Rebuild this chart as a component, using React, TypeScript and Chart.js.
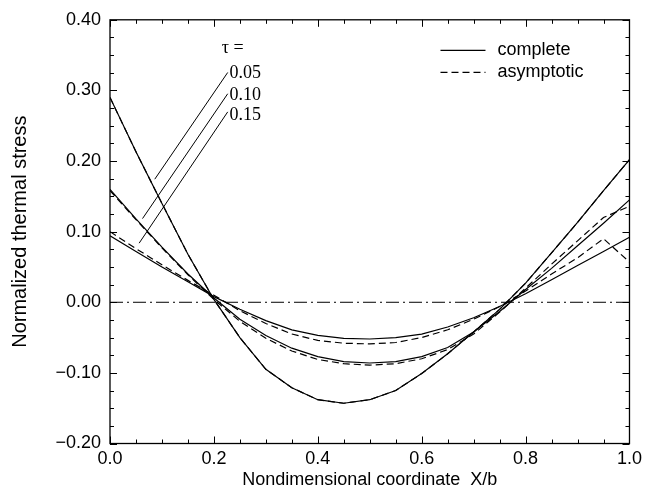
import React, { useEffect, useRef } from "react";
import { Chart, registerables } from "chart.js";

Chart.register(...registerables);

// ---------- data ----------
const xValues = [0, 0.05, 0.1, 0.15, 0.2, 0.25, 0.3, 0.35, 0.4, 0.45, 0.5, 0.55, 0.6, 0.65, 0.7, 0.75, 0.8, 0.85, 0.9, 0.95, 1.0];

const complete005 = [0.290, 0.213, 0.140, 0.068, 0.004, -0.050, -0.095, -0.121, -0.138, -0.143, -0.138, -0.125, -0.101, -0.073, -0.042, -0.010, 0.027, 0.070, 0.113, 0.158, 0.202];
const asymptotic005 = [0.290, 0.213, 0.140, 0.068, 0.004, -0.050, -0.095, -0.121, -0.138, -0.143, -0.138, -0.125, -0.101, -0.073, -0.042, -0.010, 0.027, 0.070, 0.113, 0.158, 0.202];

const complete010 = [0.160, 0.118, 0.078, 0.040, 0.006, -0.024, -0.047, -0.065, -0.077, -0.084, -0.086, -0.084, -0.077, -0.064, -0.042, -0.013, 0.018, 0.048, 0.080, 0.112, 0.145];
const asymptotic010 = [0.158, 0.117, 0.077, 0.039, 0.004, -0.027, -0.051, -0.069, -0.081, -0.087, -0.089, -0.087, -0.080, -0.067, -0.045, -0.014, 0.020, 0.054, 0.087, 0.120, 0.136];

const complete015 = [0.094, 0.072, 0.050, 0.029, 0.008, -0.010, -0.026, -0.039, -0.047, -0.051, -0.052, -0.050, -0.045, -0.035, -0.022, -0.006, 0.012, 0.032, 0.052, 0.072, 0.092];
const asymptotic015 = [0.100, 0.076, 0.053, 0.031, 0.010, -0.012, -0.030, -0.045, -0.054, -0.058, -0.059, -0.057, -0.050, -0.039, -0.024, -0.006, 0.016, 0.040, 0.063, 0.090, 0.057];

const zeroLineX = [0, 1];
const zeroLineY = [0, 0];

const tauLabels = ["0.05", "0.10", "0.15"];
const leaderStartX = [0.2266, 0.2266, 0.2266];
const leaderStartY = [0.3254, 0.2953, 0.2696];
const leaderEndX = [0.0862, 0.0626, 0.0561];
const leaderEndY = [0.1743, 0.1185, 0.0837];
const tauLabelX = 0.230;
const tauLabelY = [0.324, 0.293, 0.265];
const tauHeaderX = 0.236;
const tauHeaderY = 0.360;

const legendLabels = ["complete", "asymptotic"];

const xTickValues = [0, 0.2, 0.4, 0.6, 0.8, 1.0];
const yTickValues = [-0.2, -0.1, 0, 0.1, 0.2, 0.3, 0.4];
const xMinorStep = 0.05;
const yMinorStep = 0.025;

// ---------- helpers ----------
const toPoints = (xs: number[], ys: number[]) => xs.map((x, i) => ({ x, y: ys[i] }));

const SANS = "'Liberation Sans', Arial, Helvetica, sans-serif";
const SERIF = "'Liberation Serif', 'Times New Roman', serif";
const DASH = [7, 4];

const lineDs = (label: string, ys: number[], dashed: boolean) => ({
  label,
  data: toPoints(xValues, ys),
  borderColor: "#000",
  borderWidth: 1.2,
  borderDash: dashed ? DASH : [],
  pointRadius: 0,
  tension: 0,
  fill: false,
});

const decorPlugin = {
  id: "decor",
  afterDatasetsDraw(chart: any) {
    const { ctx, chartArea, scales } = chart;
    const { left, right, top, bottom } = chartArea;
    const xs = scales.x;
    const ys = scales.y;
    ctx.save();
    ctx.strokeStyle = "#000";
    ctx.fillStyle = "#000";

    // frame
    ctx.lineWidth = 1.3;
    ctx.setLineDash([]);
    ctx.strokeRect(left, top, right - left, bottom - top);

    // ticks (inside, all four sides)
    ctx.lineWidth = 1;
    const nx = Math.round((xs.max - xs.min) / xMinorStep);
    for (let i = 0; i <= nx; i++) {
      const v = xs.min + i * xMinorStep;
      const px = Math.round(xs.getPixelForValue(v)) + 0.5;
      const len = i % 4 === 0 ? 7 : 4;
      ctx.beginPath();
      ctx.moveTo(px, bottom);
      ctx.lineTo(px, bottom - len);
      ctx.moveTo(px, top);
      ctx.lineTo(px, top + len);
      ctx.stroke();
    }
    const ny = Math.round((ys.max - ys.min) / yMinorStep);
    for (let i = 0; i <= ny; i++) {
      const v = ys.min + i * yMinorStep;
      const py = Math.round(ys.getPixelForValue(v)) + 0.5;
      const len = i % 4 === 0 ? 7 : 4;
      ctx.beginPath();
      ctx.moveTo(left, py);
      ctx.lineTo(left + len, py);
      ctx.moveTo(right, py);
      ctx.lineTo(right - len, py);
      ctx.stroke();
    }

    // legend (top right)
    const lx0 = right - 189;
    const lx1 = right - 144;
    const tx = right - 132;
    const rows = [top + 30, top + 52];
    ctx.font = `18px ${SANS}`;
    ctx.textBaseline = "middle";
    ctx.textAlign = "left";
    legendLabels.forEach((lab, i) => {
      ctx.lineWidth = 1.2;
      ctx.setLineDash(i === 0 ? [] : DASH);
      ctx.beginPath();
      ctx.moveTo(lx0, rows[i] + 0.5);
      ctx.lineTo(lx1, rows[i] + 0.5);
      ctx.stroke();
      ctx.setLineDash([]);
      ctx.fillText(lab, tx, rows[i]);
    });

    // tau annotation text
    ctx.font = `18px ${SERIF}`;
    ctx.textAlign = "center";
    ctx.fillText("\u03c4 =", xs.getPixelForValue(tauHeaderX), ys.getPixelForValue(tauHeaderY));
    ctx.textAlign = "left";
    tauLabels.forEach((lab, i) => {
      ctx.fillText(lab, xs.getPixelForValue(tauLabelX), ys.getPixelForValue(tauLabelY[i]));
    });

    ctx.restore();
  },
};

export default function App() {
  const ref = useRef<HTMLCanvasElement | null>(null);

  useEffect(() => {
    if (!ref.current) return;
    const datasets: any[] = [
      lineDs("complete τ=0.05", complete005, false),
      lineDs("asymptotic τ=0.05", asymptotic005, true),
      lineDs("complete τ=0.10", complete010, false),
      lineDs("asymptotic τ=0.10", asymptotic010, true),
      lineDs("complete τ=0.15", complete015, false),
      lineDs("asymptotic τ=0.15", asymptotic015, true),
      {
        label: "zero",
        data: toPoints(zeroLineX, zeroLineY),
        borderColor: "#000",
        borderWidth: 1,
        borderDash: [13, 4, 2, 4],
        pointRadius: 0,
        fill: false,
      },
      ...tauLabels.map((lab, i) => ({
        label: "leader " + lab,
        data: [
          { x: leaderStartX[i], y: leaderStartY[i] },
          { x: leaderEndX[i], y: leaderEndY[i] },
        ],
        borderColor: "#000",
        borderWidth: 1,
        pointRadius: 0,
        fill: false,
      })),
    ];

    const chart = new Chart(ref.current, {
      type: "line",
      data: { datasets },
      plugins: [decorPlugin],
      options: {
        animation: false,
        responsive: false,
        maintainAspectRatio: false,
        layout: { padding: { top: 13, right: 13, left: 0, bottom: 0 } },
        plugins: {
          legend: { display: false },
          tooltip: { enabled: false },
        },
        scales: {
          x: {
            type: "linear",
            min: 0,
            max: 1,
            grid: { display: false, drawTicks: false },
            border: { display: false },
            afterBuildTicks: (s: any) => {
              s.ticks = xTickValues.map((v) => ({ value: v }));
            },
            afterFit: (s: any) => {
              s.height = 53.5;
            },
            ticks: {
              color: "#000",
              padding: 5,
              maxRotation: 0,
              autoSkip: false,
              font: { family: SANS, size: 18 },
              callback: (v: any) => Number(v).toFixed(1),
            },
            title: {
              display: true,
              text: "Nondimensional coordinate  X/b",
              color: "#000",
              font: { family: SANS, size: 18 },
              padding: { top: 0, bottom: 6 },
            },
          },
          y: {
            type: "linear",
            min: -0.2,
            max: 0.4,
            grid: { display: false, drawTicks: false },
            border: { display: false },
            afterBuildTicks: (s: any) => {
              s.ticks = yTickValues.map((v) => ({ value: v }));
            },
            afterFit: (s: any) => {
              s.width = 110;
            },
            ticks: {
              color: "#000",
              padding: 9,
              autoSkip: false,
              font: { family: SANS, size: 18 },
              callback: (v: any) => {
                const n = Number(v);
                const s = Math.abs(n).toFixed(2);
                return n < -1e-9 ? "\u2212" + s : s;
              },
            },
            title: {
              display: true,
              text: "Normalized thermal stress",
              color: "#000",
              font: { family: SANS, size: 20 },
              padding: { top: 8, bottom: 0 },
            },
          },
        },
      },
    });
    return () => chart.destroy();
  }, []);

  return (
    <div style={{ position: "absolute", left: 0, top: 0, width: 647, height: 497, background: "#fff" }}>
      <canvas ref={ref} width={647} height={497} />
    </div>
  );
}
